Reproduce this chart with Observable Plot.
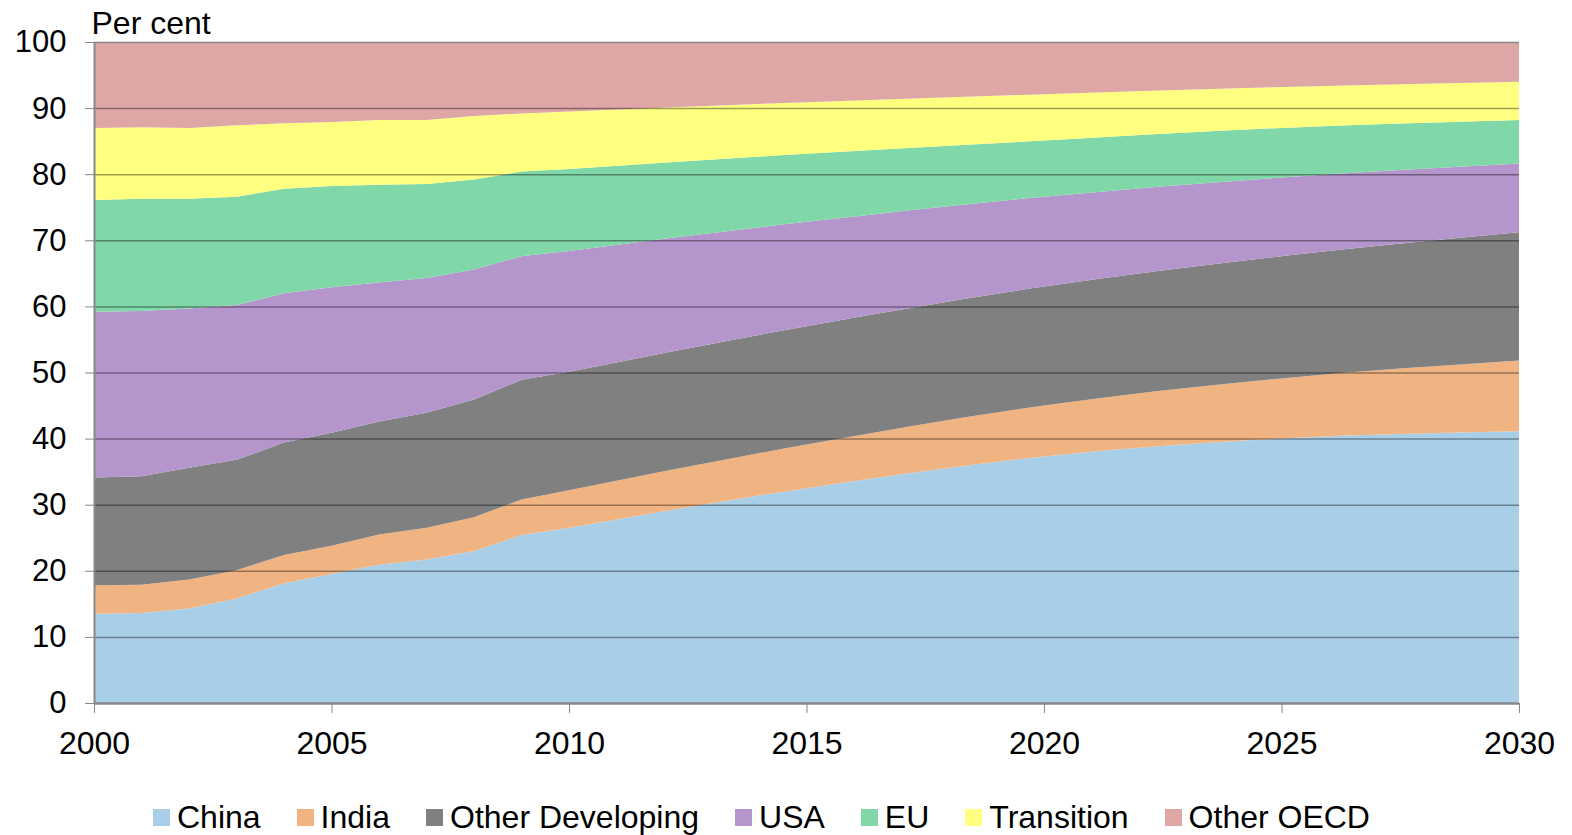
<!DOCTYPE html>
<html>
<head>
<meta charset="utf-8">
<script src="https://cdn.jsdelivr.net/npm/d3@7"></script>
<script src="https://cdn.jsdelivr.net/npm/@observablehq/plot@0.6"></script>
<style>
  html, body { margin: 0; padding: 0; background: #fff; }
  body { width: 1572px; height: 835px; overflow: hidden; font-family: "Liberation Sans", Arial, sans-serif; }
  #chart svg { display: block; }
  #legend { position: absolute; left: 153px; top: 799px; display: flex; align-items: center; font-size: 32px; color: #000; white-space: nowrap; }
  #legend .item { display: flex; align-items: center; margin-right: 36px; }
  #legend .sw { width: 17px; height: 17px; margin-right: 7px; }
</style>
</head>
<body>
<div id="chart"></div>
<div id="legend"></div>
<script>
const years = [2000, 2001, 2002, 2003, 2004, 2005, 2006, 2007, 2008, 2009, 2010, 2015, 2020, 2025, 2030];
const seriesNames = ["China", "India", "Other Developing", "USA", "EU", "Transition", "Other OECD"];
const seriesColors = ["#a9cee8", "#f0b482", "#808080", "#b495cc", "#80d8a8", "#ffff80", "#dfa6a6"];

const china           = [13.5, 13.6, 14.3, 15.8, 18.1, 19.5, 20.9, 21.7, 23.0, 25.4, 26.5, 32.5, 37.3, 40.0, 41.1];
const india           = [4.3, 4.3, 4.4, 4.3, 4.3, 4.3, 4.6, 4.8, 5.1, 5.4, 5.7, 6.6, 7.7, 9.1, 10.7];
const otherDeveloping = [16.3, 16.4, 16.9, 16.7, 17.0, 17.1, 17.1, 17.4, 17.8, 18.1, 17.9, 17.9, 18.0, 18.5, 19.4];
const usa             = [25.1, 25.0, 24.1, 23.4, 22.6, 22.0, 21.0, 20.4, 19.7, 18.7, 18.3, 15.8, 13.6, 11.9, 10.4];
const eu              = [16.9, 17.0, 16.6, 16.4, 15.8, 15.3, 14.8, 14.2, 13.6, 12.8, 12.4, 10.3, 8.5, 7.5, 6.6];
const transition      = [10.9, 10.8, 10.7, 10.8, 9.9, 9.7, 9.8, 9.7, 9.6, 8.8, 8.7, 7.8, 7.0, 6.2, 5.8];
const otherOECD       = [13.0, 12.9, 13.0, 12.6, 12.3, 12.1, 11.8, 11.8, 11.2, 10.8, 10.5, 9.1, 7.9, 6.8, 6.0];

const yTicks = [0, 10, 20, 30, 40, 50, 60, 70, 80, 90, 100];
const xTicks = [2000, 2005, 2010, 2015, 2020, 2025, 2030];
const yLabel = "Per cent";

const seriesValues = [china, india, otherDeveloping, usa, eu, transition, otherOECD];
const data = [];
seriesNames.forEach((name, si) => {
  years.forEach((yr, i) => data.push({year: yr, series: name, value: seriesValues[si][i]}));
});
const history = data.filter(d => d.year <= 2010);
const projection = data.filter(d => d.year >= 2010);

const chart = Plot.plot({
  width: 1572,
  height: 790,
  marginLeft: 94,
  marginRight: 53,
  marginTop: 42,
  marginBottom: 87,
  style: {fontFamily: "'Liberation Sans', Arial, sans-serif", fontSize: "31px", color: "#000", background: "#fff"},
  x: {domain: [2000, 2030], label: null},
  y: {domain: [0, 100], label: null},
  color: {domain: seriesNames, range: seriesColors},
  marks: [
    Plot.areaY(history, {x: "year", y: "value", fill: "series", order: seriesNames, curve: "linear"}),
    Plot.areaY(projection, {x: "year", y: "value", fill: "series", order: seriesNames, curve: "monotone-x"}),
    Plot.ruleY(yTicks.filter(d => d > 0 && d < 100), {stroke: "#000", strokeOpacity: 0.38, strokeWidth: 1.5}),
    Plot.ruleY([100], {stroke: "#888", strokeWidth: 1.5}),
    Plot.ruleX([2000], {stroke: "#888", strokeWidth: 2}),
    Plot.ruleY([0], {stroke: "#888", strokeWidth: 2.5}),
    Plot.axisY({ticks: yTicks, tickSize: 9, tickPadding: 19, stroke: "#888", fill: "#000", fontSize: 31, label: null}),
    Plot.axisX({ticks: xTicks, tickSize: 10, tickPadding: 18, tickFormat: d => String(d), stroke: "#888", fill: "#000", fontSize: 32, label: null}),
    Plot.text([yLabel], {frameAnchor: "top-left", textAnchor: "start", lineAnchor: "bottom", dx: -3, dy: -9, fontSize: 32, fill: "#000"})
  ]
});
document.getElementById("chart").appendChild(chart);

const legend = document.getElementById("legend");
seriesNames.forEach((name, i) => {
  const item = document.createElement("div");
  item.className = "item";
  const sw = document.createElement("span");
  sw.className = "sw";
  sw.style.background = seriesColors[i];
  const label = document.createElement("span");
  label.textContent = name;
  item.appendChild(sw);
  item.appendChild(label);
  legend.appendChild(item);
});
</script>
</body>
</html>
